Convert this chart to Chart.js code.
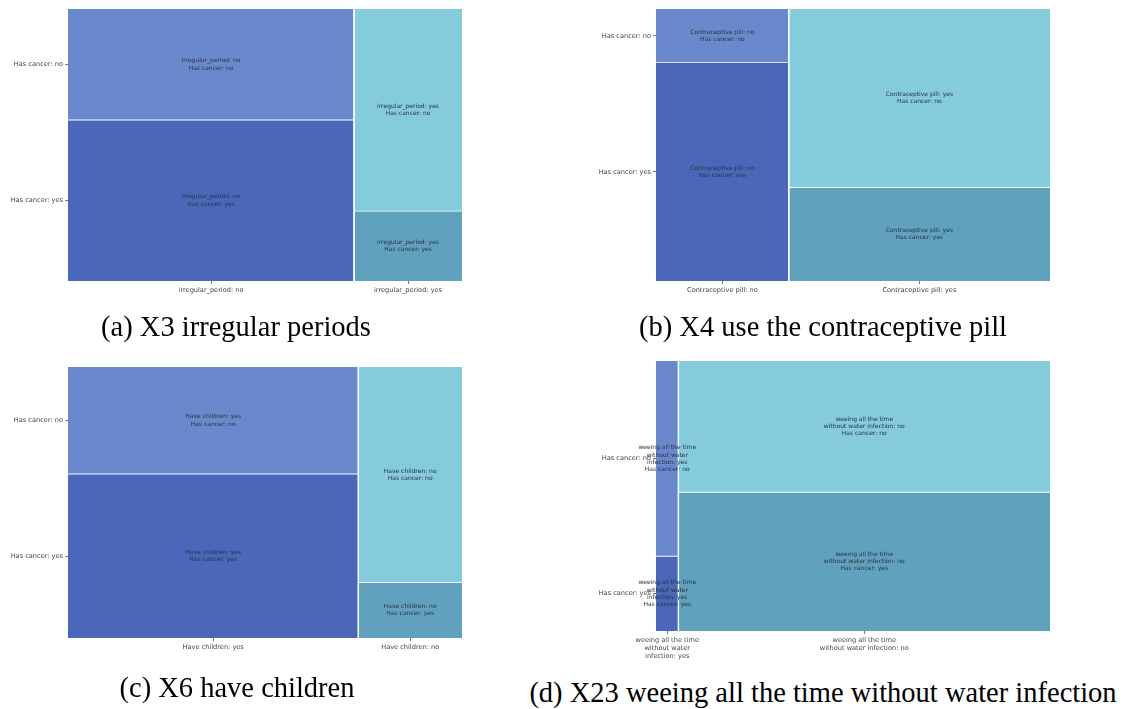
<!DOCTYPE html>
<html>
<head>
<meta charset="utf-8">
<script src="https://cdn.jsdelivr.net/npm/chart.js@4/dist/chart.umd.min.js"></script>
<style>
  html, body { margin: 0; padding: 0; background: #fff; }
  body { position: relative; width: 1123px; height: 709px; overflow: hidden; }
  canvas.panel { position: absolute; }
  .cap {
    position: absolute;
    font-family: "Liberation Serif", "Times New Roman", serif;
    font-size: 28.5px;
    line-height: 28.5px;
    white-space: nowrap;
    color: #000;
    transform: translateX(-50%);
  }
</style>
</head>
<body>
<canvas id="mosaicA" class="panel"></canvas>
<canvas id="mosaicB" class="panel"></canvas>
<canvas id="mosaicC" class="panel"></canvas>
<canvas id="mosaicD" class="panel"></canvas>
<div class="cap" id="capA">(a) X3 irregular periods</div>
<div class="cap" id="capB">(b) X4 use the contraceptive pill</div>
<div class="cap" id="capC">(c) X6 have children</div>
<div class="cap" id="capD">(d) X23 weeing all the time without water infection</div>

<script>
// Row categories shared by every mosaic (top row first).
const rowCats = ['Has cancer: no', 'Has cancer: yes'];

// X3: column categories, share of each column, share of "Has cancer: no" inside each column.
const catsIrregular = ['irregular_period: no', 'irregular_period: yes'];
const shareIrregular = [0.726, 0.274];
const noIrregular = [0.408, 0.743];

// X4
const catsPill = ['Contraceptive pill: no', 'Contraceptive pill: yes'];
const sharePill = [0.337, 0.663];
const noPill = [0.197, 0.656];

// X6
const catsChildren = ['Have children: yes', 'Have children: no'];
const shareChildren = [0.737, 0.263];
const noChildren = [0.395, 0.795];

// X23 (long names wrapped onto several lines)
const catsWeeing = [
  ['weeing all the time', 'without water', 'infection: yes'],
  ['weeing all the time', 'without water infection: no']
];
const shareWeeing = [0.057, 0.943];
const noWeeing = [0.723, 0.486];

// Tile colours per column: [no, yes]
const tileColors = [
  ['#6a89cc', '#4a67ba'],
  ['#83cbdd', '#60a2bd']
];

const AXIS_W = 68, PAD_TOP = 9, PAD_RIGHT = 20, AXIS_H = 40;
const tickFont = { family: 'DejaVu Sans', size: 6.6 };
const tileFont = '6px "DejaVu Sans"';

const tileLabels = {
  id: 'tileLabels',
  afterDatasetsDraw(chart) {
    const { ctx, scales: { x, y } } = chart;
    const tiles = chart.options.plugins.tileLabels.tiles;
    ctx.save();
    ctx.font = tileFont;
    ctx.fillStyle = '#2b3242';
    ctx.textAlign = 'center';
    ctx.textBaseline = 'middle';
    const lh = 7.2;
    tiles.forEach(t => {
      const cx = x.getPixelForValue(t.cx);
      const cy = y.getPixelForValue(t.cy);
      const n = t.lines.length;
      t.lines.forEach((ln, k) => {
        ctx.fillText(ln, cx, cy + (k - (n - 1) / 2) * lh);
      });
    });
    ctx.restore();
  }
};

function asLines(c) { return Array.isArray(c) ? c : [c]; }

function mosaic(id, cats, shares, noShares, box, capId, capCenter, capBaseline) {
  const canvas = document.getElementById(id);
  const cw = AXIS_W + box.w + PAD_RIGHT;
  const chH = PAD_TOP + box.h + AXIS_H;
  canvas.width = cw; canvas.height = chH;
  canvas.style.left = (box.left - AXIS_W) + 'px';
  canvas.style.top = (box.top - PAD_TOP) + 'px';
  canvas.style.width = cw + 'px';
  canvas.style.height = chH + 'px';

  const colGap = 1.3 / box.w;
  const rowGap = 0.9 / box.h;
  const datasets = [];
  const tiles = [];
  const colCenters = [];
  let rowCenters = null;
  let acc = 0;
  shares.forEach((s, i) => {
    const last = i === shares.length - 1;
    const x0 = acc + (i > 0 ? colGap / 2 : 0);
    const x1 = acc + s - (last ? 0 : colGap / 2);
    const yesTop = 1 - noShares[i];
    // "no" sits on top, "yes" at the bottom of the column
    const parts = [
      { lo: yesTop + rowGap / 2, hi: 1, color: tileColors[i][0] },
      { lo: 0, hi: yesTop - rowGap / 2, color: tileColors[i][1] }
    ];
    parts.forEach(p => {
      datasets.push({
        data: [{ x: x0, y: p.hi }, { x: x1, y: p.hi }],
        fill: { value: p.lo },
        backgroundColor: p.color,
        borderColor: 'rgba(0,0,0,0)',
        borderWidth: 0,
        pointRadius: 0,
        pointHoverRadius: 0,
        tension: 0
      });
    });
    tiles.push({ cx: acc + s / 2, cy: (yesTop + 1) / 2, lines: asLines(cats[i]).concat([rowCats[0]]) });
    tiles.push({ cx: acc + s / 2, cy: yesTop / 2, lines: asLines(cats[i]).concat([rowCats[1]]) });
    colCenters.push(acc + s / 2);
    if (i === 0) rowCenters = [(yesTop + 1) / 2, yesTop / 2];
    acc += s;
  });

  new Chart(canvas, {
    type: 'line',
    data: { datasets },
    plugins: [tileLabels],
    options: {
      responsive: false,
      devicePixelRatio: 1,
      animation: false,
      events: [],
      layout: { padding: { top: PAD_TOP, right: PAD_RIGHT, left: 0, bottom: 0 } },
      plugins: {
        legend: { display: false },
        tooltip: { enabled: false },
        tileLabels: { tiles }
      },
      scales: {
        x: {
          type: 'linear', min: 0, max: 1,
          afterFit(scale) { scale.height = AXIS_H; },
          afterBuildTicks(scale) { scale.ticks = colCenters.map(v => ({ value: v })); },
          border: { display: false },
          grid: { drawOnChartArea: false, drawTicks: true, tickLength: 3, color: '#555', lineWidth: 0.8 },
          ticks: {
            autoSkip: false, maxRotation: 0, minRotation: 0, padding: 2.5,
            font: tickFont, color: '#444',
            callback: (v, i) => cats[i]
          }
        },
        y: {
          type: 'linear', min: 0, max: 1,
          afterFit(scale) { scale.width = AXIS_W; },
          afterBuildTicks(scale) { scale.ticks = rowCenters.map(v => ({ value: v })); },
          border: { display: false },
          grid: { drawOnChartArea: false, drawTicks: true, tickLength: 3, color: '#555', lineWidth: 0.8 },
          ticks: {
            autoSkip: false, padding: 2,
            font: tickFont, color: '#444',
            callback: (v, i) => rowCats[i]
          }
        }
      }
    }
  });

  const cap = document.getElementById(capId);
  cap.style.left = capCenter + 'px';
  cap.style.top = (capBaseline - 23.9) + 'px';
}

mosaic('mosaicA', catsIrregular, shareIrregular, noIrregular, { left: 68, top: 9, w: 394, h: 272 }, 'capA', 236, 337);
mosaic('mosaicB', catsPill, sharePill, noPill, { left: 656, top: 9, w: 394, h: 272 }, 'capB', 823, 337);
mosaic('mosaicC', catsChildren, shareChildren, noChildren, { left: 68, top: 367, w: 394, h: 271 }, 'capC', 237, 698);
mosaic('mosaicD', catsWeeing, shareWeeing, noWeeing, { left: 656, top: 361, w: 394, h: 270 }, 'capD', 823, 703);
</script>
</body>
</html>
